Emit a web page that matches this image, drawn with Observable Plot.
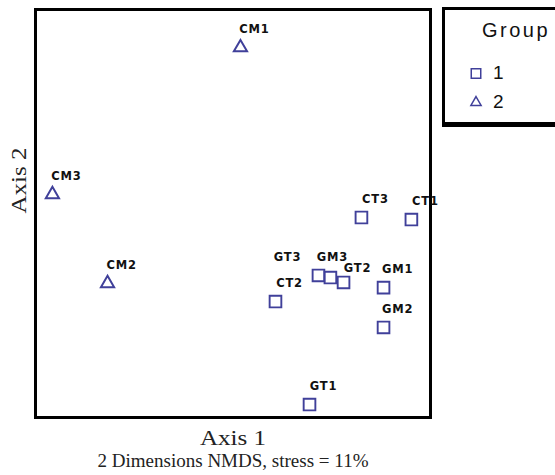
<!DOCTYPE html>
<html>
<head>
<meta charset="utf-8">
<script src="https://cdn.jsdelivr.net/npm/d3@7"></script>
<script src="https://cdn.jsdelivr.net/npm/@observablehq/plot@0.6"></script>
<style>
  html, body { margin: 0; padding: 0; background: #fff; overflow: hidden; }
  #wrap { position: relative; width: 555px; height: 475px; }
  #legend { position: absolute; left: 442px; top: 7px; width: 130px; height: 112px;
    border: 3px solid #000; border-bottom-width: 5px; background: #fff;
    font-family: "Liberation Sans", Arial, sans-serif; color: #111; }
  #legend .title { position: absolute; left: 37px; top: 9px; font-size: 20px; letter-spacing: 2.5px; }
  #legend .item { position: absolute; left: 24px; font-size: 19px; display: flex; align-items: center; }
  #legend .item svg { margin-right: 10px; }
  g[font-weight="bold"] text { letter-spacing: 0.8px; }
</style>
</head>
<body>
<div id="wrap"></div>
<script>
// Data (NMDS scores)
const names = ["CM1", "CM2", "CM3", "CT1", "CT2", "CT3", "GM1", "GM2", "GM3", "GT1", "GT2", "GT3"];
const axis1 = [0.04, -0.628, -0.905, 0.899, 0.216, 0.648, 0.759, 0.759, 0.492, 0.387, 0.558, 0.432];
const axis2 = [0.805, -0.343, 0.09, -0.032, -0.431, -0.022, -0.363, -0.557, -0.314, -0.932, -0.338, -0.304];
const group = [2, 2, 2, 1, 1, 1, 1, 1, 1, 1, 1, 1];
const groups = [1, 2];
const xTitle = "Axis 1";
const yTitle = "Axis 2";
const caption = "2 Dimensions NMDS, stress = 11%";
const legendTitle = "Group";

const data = names.map((n, i) => ({name: n, x: axis1[i], y: axis2[i], group: group[i]}));
const color = "#40409a";
const labelFont = {fontFamily: "DejaVu Sans, sans-serif", fontWeight: "bold", fontSize: 11.5, fill: "#111"};
const serif = "Liberation Serif, Times New Roman, serif";
const special = {GT3: [-31, -18], GM3: [2, -20], GT2: [14, -14]};
const normal = data.filter(d => !(d.name in special));

const marks = [
  Plot.frame({stroke: "#000", strokeWidth: 3}),
  Plot.dot(data.filter(d => d.group === 1), {x: "x", y: "y", symbol: "square", r: 6.6, stroke: color, strokeWidth: 1.9, fill: "none"}),
  Plot.dot(data.filter(d => d.group === 2), {x: "x", y: "y", symbol: "triangle", r: 4.9, stroke: color, strokeWidth: 2, fill: "none"}),
  Plot.text(normal, {x: "x", y: "y", text: "name", dx: 14, dy: -18, ...labelFont}),
  ...Object.entries(special).map(([n, [dx, dy]]) =>
    Plot.text(data.filter(d => d.name === n), {x: "x", y: "y", text: "name", dx, dy, ...labelFont})),
  Plot.text([xTitle], {frameAnchor: "bottom", lineAnchor: "middle", dy: 20, fontFamily: serif, fontSize: 22, fill: "#222"}),
  Plot.text([caption], {frameAnchor: "bottom", lineAnchor: "middle", dy: 44, fontFamily: serif, fontSize: 18, fill: "#222"}),
  Plot.text([yTitle], {frameAnchor: "left", lineAnchor: "middle", rotate: -90, dx: -17, fontFamily: serif, fontSize: 22, fill: "#222"})
];

const chart = Plot.plot({
  width: 555,
  height: 475,
  marginLeft: 35,
  marginRight: 125,
  marginTop: 9,
  marginBottom: 58,
  x: {domain: [-0.99, 0.995], axis: null},
  y: {domain: [-0.995, 0.99], axis: null},
  style: {background: "#fff"},
  marks
});
// slightly wider lettering, as in the reference
const stretch = {[xTitle]: 66, [yTitle]: 66, [caption]: 271};
d3.select(chart).selectAll("text").each(function() {
  const s = this.textContent;
  if (s in stretch) {
    this.setAttribute("textLength", stretch[s]);
    this.setAttribute("lengthAdjust", "spacingAndGlyphs");
  }
});
const wrap = document.getElementById("wrap");
wrap.appendChild(chart);

// Legend
const legend = document.createElement("div");
legend.id = "legend";
const t = document.createElement("div");
t.className = "title";
t.textContent = legendTitle;
legend.appendChild(t);
const symbols = {1: d3.symbolSquare, 2: d3.symbolTriangle2};
const sizes = {1: 90, 2: 75};
groups.forEach((g, i) => {
  const item = document.createElement("div");
  item.className = "item";
  item.style.top = (52 + i * 29) + "px";
  const svg = d3.create("svg").attr("width", 14).attr("height", 14);
  svg.append("path")
    .attr("transform", "translate(7,7.5)")
    .attr("d", d3.symbol(symbols[g], sizes[g])())
    .attr("fill", "none").attr("stroke", color).attr("stroke-width", 1.5);
  item.appendChild(svg.node());
  const lab = document.createElement("span");
  lab.textContent = String(g);
  item.appendChild(lab);
  legend.appendChild(item);
});
wrap.appendChild(legend);
</script>
</body>
</html>
